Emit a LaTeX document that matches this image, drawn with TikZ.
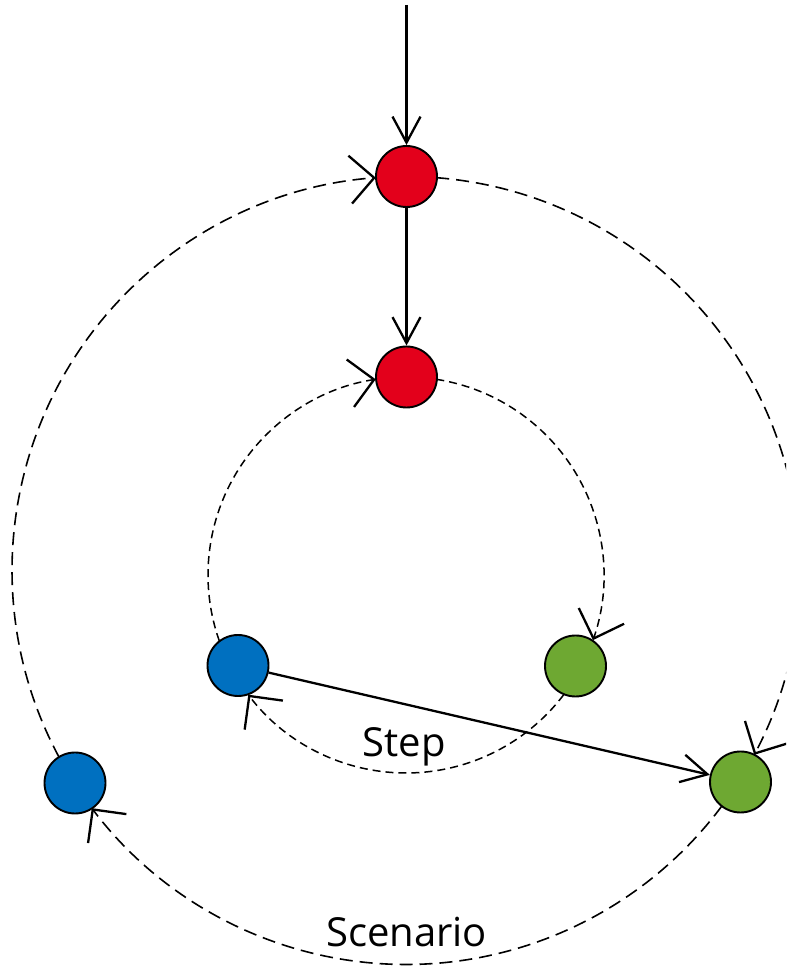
\documentclass[tikz,border=0pt]{standalone}
\usepackage{fontspec}
\setmainfont{Open Sans}
\usetikzlibrary{arrows.meta}
\definecolor{nred}{HTML}{E3001B}
\definecolor{nblue}{HTML}{0070C0}
\definecolor{ngreen}{HTML}{6EA832}
\begin{document}
\begin{tikzpicture}[x=1pt,y=1pt,
  dot/.style={circle,draw=black,line width=1.9pt,minimum size=61pt,inner sep=0pt},
  solidarrow/.style={line width=2.3pt,-{Straight Barb[length=26pt,width=28pt]}},
  arcarrow/.style={-{Straight Barb[length=24pt,width=48pt,line width=2.3pt]}},
  outerdash/.style={line width=1.6pt,dash pattern=on 13pt off 7pt},
  innerdash/.style={line width=1.5pt,dash pattern=on 8pt off 5pt},
  lbl/.style={font=\fontsize{40}{40}\selectfont,anchor=base,inner sep=0pt}]
\useasboundingbox (0,0) rectangle (786,973);
\clip (0,0) rectangle (786,973);
\coordinate (O) at (406,402.5);
\coordinate (I) at (406,398);
\coordinate (T) at (406.5,968);
% outer scenario cycle
\draw[outerdash,arcarrow] ([shift={(208.3:394)}]O) arc[start angle=208.3,end angle=94.4,radius=394];
\draw[outerdash,arcarrow] ([shift={(85.6:394)}]O) arc[start angle=85.6,end angle=-27.9,radius=394];
\draw[outerdash,arcarrow] ([shift={(-36.7:394)}]O) arc[start angle=-36.7,end angle=-142.9,radius=394];
% inner step cycle
\draw[innerdash,arcarrow] ([shift={(199.4:198)}]I) arc[start angle=199.4,end angle=98.8,radius=198];
\draw[innerdash,arcarrow] ([shift={(81.2:198)}]I) arc[start angle=81.2,end angle=-19.2,radius=198];
\draw[innerdash,arcarrow] ([shift={(-37.2:198)}]I) arc[start angle=-37.2,end angle=-142.8,radius=198];
% nodes
\node[dot,fill=nred] (R1) at (406.5,796.5) {};
\node[dot,fill=nred] (R2) at (406.5,596) {};
\node[dot,fill=nblue] (B2) at (238,307.5) {};
\node[dot,fill=ngreen] (G2) at (575.5,307) {};
\node[dot,fill=nblue] (B1) at (75,190) {};
\node[dot,fill=ngreen] (G1) at (740.5,191) {};
% solid arrows
\draw[solidarrow] (T) -- (R1);
\draw[solidarrow] (R1) -- (R2);
\draw[solidarrow] (B2) -- (G1);
% labels
\node[lbl] (step) at (404,216) {Step};
\node[lbl] (scen) at (406.5,26) {Scenario};
\end{tikzpicture}
\end{document}
